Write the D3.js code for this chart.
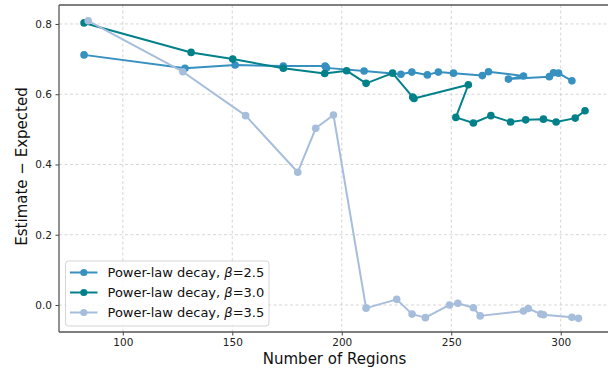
<!DOCTYPE html>
<html><head><meta charset="utf-8">
<script src="https://cdn.jsdelivr.net/npm/d3@7"></script>
<style>body{margin:0;background:#fff}svg{display:block;font-family:"DejaVu Sans",sans-serif}</style>
</head><body><svg id="c" width="608" height="368"></svg>
<script>
const seriesNames = ["2.5", "3.0", "3.5"];
const colors = ["#3690c0", "#02818a", "#a6bddb"];
const xTicks = [100, 150, 200, 250, 300];
const yTicks = [0.0, 0.2, 0.4, 0.6, 0.8];

const b25x = [82.3,128.4,151.3,173.3,192.4,193.0,210.2,227.0,232.0,239.1,244.1,251.0,264.2,267.0,283.0,276.1,294.8,296.7,299.0,305.1];
const b25y = [0.712,0.674,0.683,0.680,0.680,0.675,0.666,0.657,0.663,0.655,0.663,0.660,0.653,0.664,0.652,0.643,0.650,0.661,0.660,0.638];

const b30x = [82.3,131.2,150.2,173.3,192.2,202.2,211.1,223.2,232.4,233.0,257.8,252.1,260.1,268.1,277.1,284.0,292.1,297.9,306.6,311.1];
const b30y = [0.803,0.719,0.700,0.674,0.659,0.667,0.631,0.660,0.592,0.588,0.627,0.534,0.518,0.539,0.521,0.527,0.529,0.521,0.532,0.553];

const b35x = [84.2,127.4,156.1,179.9,188.1,196.2,211.1,225.1,232.1,238.2,249.2,253.0,260.1,263.2,283.0,285.2,290.9,292.1,305.1,308.1];
const b35y = [0.809,0.664,0.539,0.378,0.503,0.541,-0.009,0.016,-0.026,-0.036,0.000,0.005,-0.008,-0.031,-0.017,-0.010,-0.026,-0.028,-0.035,-0.038];

const series = [
  {name: seriesNames[0], xs: b25x, ys: b25y},
  {name: seriesNames[1], xs: b30x, ys: b30y},
  {name: seriesNames[2], xs: b35x, ys: b35y}
];

const svg = d3.select("#c");
const L = 59, R = 610, T = 5, B = 332;
const x = d3.scaleLinear().domain([70.86, 322.5]).range([L, R]);
const y = d3.scaleLinear().domain([-0.0769, 0.854]).range([B, T]);

// grid
const g = svg.append("g");
g.selectAll(".gx").data(xTicks).enter().append("line")
  .attr("x1", d => x(d)).attr("x2", d => x(d)).attr("y1", T).attr("y2", B)
  .attr("stroke", "#cccccc").attr("stroke-width", 0.8).attr("stroke-dasharray", "3,2.5");
g.selectAll(".gy").data(yTicks).enter().append("line")
  .attr("y1", d => y(d)).attr("y2", d => y(d)).attr("x1", L).attr("x2", R)
  .attr("stroke", "#cccccc").attr("stroke-width", 0.8).attr("stroke-dasharray", "3,2.5");

// series
const line = d3.line().x(d => x(d[0])).y(d => y(d[1]));
series.forEach((s, i) => {
  const pts = s.xs.map((v, k) => [v, s.ys[k]]);
  const gs = svg.append("g");
  gs.append("path").datum(pts).attr("d", line).attr("fill", "none")
    .attr("stroke", colors[i]).attr("stroke-width", 2).attr("stroke-linejoin", "round");
  gs.selectAll("circle").data(pts).enter().append("circle")
    .attr("cx", d => x(d[0])).attr("cy", d => y(d[1])).attr("r", 3.8).attr("fill", colors[i]);
});

// axes
const ax = svg.append("g").attr("transform", `translate(0,${B})`)
  .call(d3.axisBottom(x).tickValues(xTicks).tickSize(3.5).tickPadding(3.5).tickFormat(d3.format("d")));
const ay = svg.append("g").attr("transform", `translate(${L},0)`)
  .call(d3.axisLeft(y).tickValues(yTicks).tickSize(3.5).tickPadding(3.5).tickFormat(d3.format(".1f")));
[ax, ay].forEach(a => {
  a.select(".domain").remove();
  a.selectAll(".tick line").attr("stroke", "#444").attr("stroke-width", 1);
  a.selectAll(".tick text").attr("fill", "#222").style("font-size", "10.5px").style("font-family", "DejaVu Sans");
});

// spines
svg.append("line").attr("x1", L).attr("x2", L).attr("y1", T).attr("y2", B).attr("stroke", "#555").attr("stroke-width", 1.3);
svg.append("line").attr("x1", L).attr("x2", R).attr("y1", B).attr("y2", B).attr("stroke", "#555").attr("stroke-width", 1.3);
svg.append("line").attr("x1", L).attr("x2", R).attr("y1", T).attr("y2", T).attr("stroke", "#555").attr("stroke-width", 1.3);

// labels
svg.append("text").attr("x", 334.5).attr("y", 364).attr("text-anchor", "middle")
  .style("font-size", "15px").attr("fill", "#111").text("Number of Regions");
svg.append("text").attr("transform", `translate(27,${(T+B)/2 - 2}) rotate(-90)`).attr("text-anchor", "middle")
  .style("font-size", "15px").attr("fill", "#111").text("Estimate \u2212 Expected");

// legend
const lg = svg.append("g");
lg.append("rect").attr("x", 65.5).attr("y", 261).attr("width", 203.5).attr("height", 65)
  .attr("rx", 3).attr("fill", "#fff").attr("fill-opacity", 0.85).attr("stroke", "#d5d5d5").attr("stroke-width", 1);
seriesNames.forEach((n, i) => {
  const yy = 272.5 + i * 20;
  lg.append("line").attr("x1", 70).attr("x2", 97.5).attr("y1", yy).attr("y2", yy)
    .attr("stroke", colors[i]).attr("stroke-width", 2);
  lg.append("circle").attr("cx", 83.8).attr("cy", yy).attr("r", 3.6).attr("fill", colors[i]);
  const t = lg.append("text").attr("x", 107.5).attr("y", yy + 4.6).style("font-size", "13px").attr("fill", "#111");
  t.append("tspan").text("Power-law decay, ");
  t.append("tspan").style("font-style", "italic").text("\u03b2");
  t.append("tspan").text("=" + n);
});
</script></body></html>
